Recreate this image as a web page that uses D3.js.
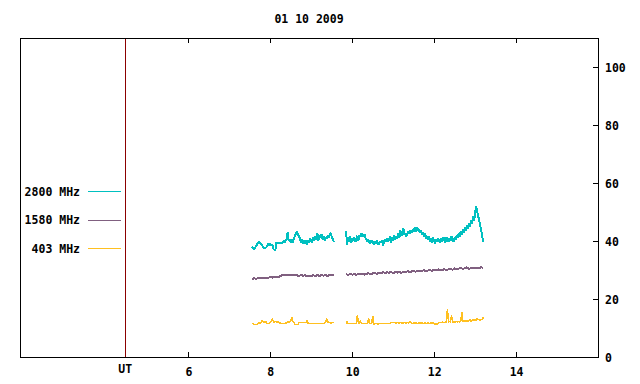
<!DOCTYPE html>
<html>
<head>
<meta charset="utf-8">
<script src="https://cdn.jsdelivr.net/npm/d3@7"></script>
<style>
  body { margin: 0; background: #fff; }
  svg text { font-family: "DejaVu Sans Mono", "Liberation Mono", monospace; font-weight: bold; font-size: 11.5px; fill: #000; }
</style>
</head>
<body>
<svg id="chart" width="640" height="384"></svg>
<script>

var title = "01 10 2009";
var xTicks = [6, 8, 10, 12, 14];
var yTicks = [0, 20, 40, 60, 80, 100];
var utHour = 4.46;

// two recording blocks, sampled every 0.025 h (1.5 min)
var blockStart = [7.55, 9.85];
var sampleStep = 0.025;
var slowStep = 0.05;

var names = ["2800 MHz", "1580 MHz", "403 MHz"];
var colors = ["#00c0c0", "#806080", "#ffc020"];
var widths = [2, 2, 1.5];

var f2800a = [38, 37.5, 37.2, 37.6, 38.2, 38.8,
  39.3, 39.6, 39.4, 39, 38.5,
  38, 37.6, 37.5, 37.8, 38.4,
  39, 38.6, 39.2, 38.4, 38.8,
  37.2, 37, 36.9,
  39.6, 39.3, 39.4, 39.2, 39.5, 39.3,
  39.6, 40, 39.6, 40.2, 40.5, 43,
  40.2, 40.6, 39.6, 40.4, 39.4, 41,
  41.6, 42.5, 43.2, 42.4, 41.6, 40.8,
  39.5, 40.6, 39.2, 40.4, 39, 40.2, 38.8,
  40.4, 39.4, 40.8, 40, 39.6, 41.4, 40.2,
  41.8, 40.4, 42.6, 40.2, 42, 41, 42.4, 40.6,
  41.6, 40.2, 41.4, 40.8, 41.8, 41.2, 42.4, 42.8,
  41.4, 40.8, 39.6];
var f2800b = [43.4, 38.6, 41.2, 39.8, 41.6, 39.4, 40.8, 40.0, 41.4, 39.6,
  40.6, 41.8, 40.2, 42.0, 41.4, 42.6, 42.2, 41.6, 42.4, 41.0,
  40.6, 39.8, 40.4, 39.2, 40.2, 39.6, 40.0, 38.8, 39.8, 39.2,
  40.2, 39.4, 38.6, 40.0, 39.4, 40.4, 38.4, 39.8, 40.6, 39.6,
  41.0, 39.8, 40.4, 41.6, 39.4, 41.2, 40.2, 42.0, 40.6, 41.4,
  40.8, 42.6, 41.0, 43.6, 41.8, 42.4, 44.4, 42.0, 42.8, 41.6,
  42.6, 43.4, 42.4, 43.8, 42.8, 44.0, 43.2, 44.6, 43.0, 44.9,
  43.4, 44.2, 42.8, 43.6, 42.2, 43.0, 41.4, 42.6, 40.8, 41.8,
  40.4, 41.6, 39.8, 40.8, 39.4, 41.2, 40.0, 39.2, 40.6, 39.6,
  41.0, 40.0, 39.4, 40.8, 39.8, 41.4, 40.2, 39.6, 41.2, 40.4,
  39.8, 41.0, 40.2, 41.6, 40.4, 39.8, 41.2, 40.6, 42.0, 41.0,
  42.6, 41.4, 43.4, 42.0, 44.2, 43.0, 44.6, 43.6, 45.4, 44.2,
  46.0, 45.0, 47.2, 46.0, 48.4, 47.0, 49.6, 52.0, 50.4, 48.6,
  47.0, 45.2, 43.6, 41.4, 39.8];

// 1580 MHz is logged at half the rate
var f1580a = [26.9, 27.1, 27.0, 27.2, 27.1, 27.3, 27.2, 27.4, 27.3, 27.5,
  27.4, 27.6, 27.5, 27.6, 28.0, 28.2, 28.1, 28.3, 28.2, 28.4,
  28.1, 28.3, 28.2, 27.9, 28.3, 28.0, 28.2, 27.8, 28.1, 27.9,
  28.2, 27.8, 28.3, 27.9, 28.4, 28.0, 28.3, 27.9, 28.4, 28.1, 28.3];
var f1580b = [28.6, 28.2, 28.7, 28.4, 28.6, 28.3, 28.7, 28.5, 28.8, 28.4,
  28.7, 28.9, 28.5, 28.8, 29.0, 28.6, 29.1, 28.8, 29.3, 28.9,
  29.2, 29.0, 29.4, 28.8, 29.3, 29.1, 29.5, 29.0, 29.4, 29.2,
  29.6, 29.3, 29.5, 29.7, 29.4, 29.8, 29.5, 29.7, 29.9, 29.6,
  29.8, 30.0, 29.7, 30.1, 29.8, 30.2, 29.9, 30.0, 30.3, 30.0,
  30.2, 30.4, 30.1, 30.6, 30.2, 30.5, 30.8, 30.3, 30.6, 30.9,
  30.4, 30.7, 30.9, 30.5, 30.8, 30.6, 31.0, 30.7];

var f403a = [11.5, 11.5, 11.2, 11.2, 11.2, 11.2,
  11.7, 11.8, 11.7, 12.0, 12.7, 12.1, 11.9, 12.4,
  12.0, 11.6, 11.5, 11.6, 11.9, 12.2, 13.3,
  12.2, 12.0, 12.3, 12.1, 12.0, 12.2, 11.9,
  11.5, 11.6, 11.5, 11.5, 11.6, 11.7, 11.8, 12.1, 12.0, 12.2,
  12.6, 13.8, 12.4, 11.9, 11.2, 11.1, 11.3, 11.2,
  11.9, 11.8, 11.9, 12.0, 11.9, 11.8, 11.9, 11.9, 12.8,
  11.6, 11.5, 11.6, 11.5, 11.5, 11.6, 11.5, 11.5, 11.6, 11.5, 11.5, 11.5, 11.6, 11.5, 11.5, 11.6,
  11.8, 11.9, 13.4, 12.2, 11.8, 11.9, 11.7, 11.8, 11.9, 11.8];
var f403b = [11.5, 12.5, 11.5, 11.5, 11.6, 11.5, 11.5, 11.5, 11.6, 11.5, 11.5,
  14.4, 11.8, 11.7, 12.5, 11.5, 11.5, 11.5, 11.6, 11.5, 11.5, 11.5,
  13.5, 11.5, 11.5, 11.5, 14.2, 11.1, 11.5, 11.5, 11.5, 11.1,
  11.5, 11.5, 11.5, 11.6, 11.5, 11.5, 11.5, 11.5, 11.6, 11.5, 11.5, 11.5,
  11.9, 11.8, 11.9, 11.8, 11.9,
  11.7, 12.0, 11.8, 11.6, 12.0, 11.7, 11.9, 11.6, 12.0, 11.8, 11.6, 11.9, 11.7,
  12.2, 12.1,
  11.7, 11.5, 11.9, 11.6, 11.8, 11.5, 11.6, 11.9, 11.5, 11.7, 11.8, 11.5, 11.6, 11.9, 11.7, 11.5, 11.8, 11.6, 11.5, 11.8, 11.6, 11.7,
  11.4, 11.2, 11.5, 11.3, 11.5,
  11.9, 11.8, 11.9, 12.0, 11.9, 11.9, 12.0, 12.1,
  16.5, 12.1, 12.2, 12.1, 14.4, 12.1, 12.0, 12.2, 12.1, 12.2, 12.0,
  12.3, 12.0, 12.4, 15.5, 12.4, 12.1, 12.5, 12.2, 12.6, 12.3, 12.5, 12.8, 12.4,
  12.6, 12.9, 12.5, 13.0, 12.7, 13.2, 12.8, 13.1, 12.6, 13.0, 12.8, 13.8];

var svg = d3.select("#chart");
var plotLeft = 20, plotRight = 598, plotTop = 38, plotBottom = 357;

var x = d3.scaleLinear().domain([1.89, 16]).range([plotLeft, plotRight]);
var y = d3.scaleLinear().domain([0, 110]).range([plotBottom, plotTop]);

function toPoints(vals, start, step) {
    return vals.map(function (v, i) { return [start + i * step, v]; });
}

var series = [
    { name: names[0], color: colors[0], width: widths[0], parts: [toPoints(f2800a, blockStart[0], sampleStep), toPoints(f2800b, blockStart[1], sampleStep)] },
    { name: names[1], color: colors[1], width: widths[1], parts: [toPoints(f1580a, blockStart[0], slowStep), toPoints(f1580b, blockStart[1], slowStep)] },
    { name: names[2], color: colors[2], width: widths[2], parts: [toPoints(f403a, blockStart[0], sampleStep), toPoints(f403b, blockStart[1], sampleStep)] }
];

svg.append("text")
    .attr("x", (plotLeft + plotRight) / 2)
    .attr("y", 23)
    .attr("text-anchor", "middle")
    .text(title);

// axes: ticks point inwards, gnuplot style
var gx = svg.append("g").attr("transform", "translate(0," + plotBottom + ")")
    .call(d3.axisBottom(x).tickValues(xTicks).tickSizeInner(-5).tickSizeOuter(0).tickFormat(d3.format("d")));
var gxTop = svg.append("g").attr("transform", "translate(0," + plotTop + ")")
    .call(d3.axisTop(x).tickValues(xTicks).tickSizeInner(-5).tickSizeOuter(0).tickFormat(""));
var gy = svg.append("g").attr("transform", "translate(" + plotRight + ",0)")
    .call(d3.axisRight(y).tickValues(yTicks).tickSizeInner(-5).tickSizeOuter(0).tickFormat(d3.format("d")));

svg.selectAll(".domain").remove();
svg.selectAll(".tick line").attr("stroke", "#000").attr("shape-rendering", "crispEdges");
svg.selectAll(".tick text").attr("font-family", null).attr("font-size", null).attr("fill", "#000");
gx.selectAll(".tick text").attr("dy", null).attr("y", 19);
gy.selectAll(".tick text").attr("x", 7).attr("dy", "0.35em");

svg.append("rect")
    .attr("x", plotLeft + 0.5).attr("y", plotTop + 0.5)
    .attr("width", plotRight - plotLeft).attr("height", plotBottom - plotTop)
    .attr("fill", "none").attr("stroke", "#000")
    .attr("shape-rendering", "crispEdges");

// UT marker
svg.append("line")
    .attr("x1", Math.round(x(utHour)) + 0.5).attr("x2", Math.round(x(utHour)) + 0.5)
    .attr("y1", plotTop + 1).attr("y2", plotBottom)
    .attr("stroke", "#8b0000").attr("shape-rendering", "crispEdges");
svg.append("text")
    .attr("x", x(utHour)).attr("y", 373)
    .attr("text-anchor", "middle")
    .text("UT");

var line = d3.line()
    .x(function (d) { return x(d[0]); })
    .y(function (d) { return y(d[1]); });

var g = svg.append("g");
series.forEach(function (s) {
    g.selectAll(null)
        .data(s.parts)
        .enter()
        .append("path")
            .attr("d", line)
            .attr("fill", "none")
            .attr("stroke", s.color)
            .attr("stroke-width", s.width)
            .attr("stroke-linejoin", "bevel")
            .attr("shape-rendering", "crispEdges");
});

// legend
var legend = svg.append("g").selectAll("g")
    .data(series)
    .enter()
    .append("g")
        .attr("transform", function (d, i) { return "translate(0," + (191.5 + i * 28.5) + ")"; });
legend.append("text")
    .attr("x", 80).attr("y", 4)
    .attr("text-anchor", "end")
    .text(function (d) { return d.name; });
legend.append("line")
    .attr("x1", 88).attr("x2", 121)
    .attr("stroke", function (d) { return d.color; })
    .attr("shape-rendering", "crispEdges");
</script>
</body>
</html>
